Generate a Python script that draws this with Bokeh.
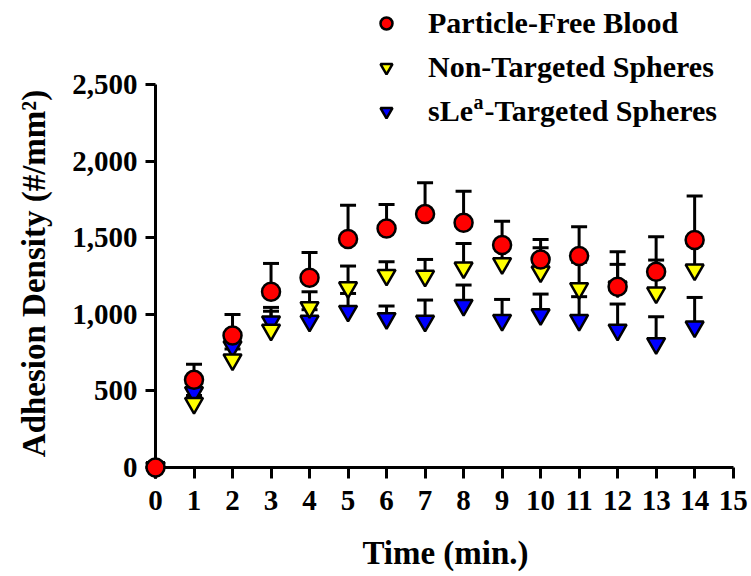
import math
from bokeh.plotting import figure
from bokeh.models import (ColumnDataSource, Whisker, TeeHead, Legend, LegendItem,
                          Label, FixedTicker, NumeralTickFormatter, Range1d)
from bokeh.embed import file_html
from bokeh.resources import INLINE

# ---- data ----
time_min = [0, 1, 2, 3, 4, 5, 6, 7, 8, 9, 10, 11, 12, 13, 14]
pfb_mean = [0, 572, 861, 1147, 1238, 1491, 1560, 1654, 1597, 1452, 1358, 1380, 1180, 1278, 1485]
pfb_err = [0, 102, 137, 185, 166, 221, 156, 204, 207, 156, 130, 191, 228, 228, 287]
nts_mean = [0, 420, 704, 898, 1045, 1175, 1256, 1250, 1304, 1332, 1278, 1169, 1180, 1141, 1291]
nts_err = [0, 50, 70, 147, 102, 140, 87, 108, 158, 88, 156, 171, 146, 213, 159]
sle_mean = [0, 490, 790, 952, 956, 1021, 973, 956, 1060, 962, 999, 962, 898, 810, 919]
sle_err = [0, 30, 50, 68, 74, 115, 81, 137, 131, 135, 133, 153, 169, 174, 191]

x_ticks = list(range(0, 16))
y_ticks = [0, 500, 1000, 1500, 2000, 2500]

labels = ["Particle-Free Blood", "Non-Targeted Spheres", "sLe"]
sup_text = "a"
tail_text = "-Targeted Spheres"
x_title = "Time (min.)"
y_title = "Adhesion Density (#/mm\u00b2)"

FONT = "Liberation Serif"

W, H = 751, 576
px_per_x = 38.51
px_per_y = 0.1532
X0_PX, Y0_PX = 155, 467          # canvas position of the data origin
x_start = -X0_PX / px_per_x
y_start = -(H - Y0_PX) / px_per_y

p = figure(width=W, height=H, output_backend="svg", toolbar_location=None, title=None,
           x_range=Range1d(x_start, x_start + W / px_per_x),
           y_range=Range1d(y_start, y_start + H / px_per_y),
           min_border_left=0, min_border_right=0, min_border_top=0,
           min_border_bottom=0)
p.outline_line_color = None
p.grid.visible = False
p.background_fill_color = "white"
p.border_fill_color = "white"

def sx(px):   # canvas x -> frame screen x
    return px

def sy(py):   # canvas y -> frame screen y (from bottom)
    return H - py

def src(mean, err):
    return ColumnDataSource(dict(x=time_min, y=mean,
                                 upper=[m + e for m, e in zip(mean, err)]))

series = [
    (sle_mean, sle_err, "inverted_triangle", "#0000FF"),
    (nts_mean, nts_err, "inverted_triangle", "#FFFF00"),
    (pfb_mean, pfb_err, "circle", "#FF0000"),
]
renderers = []
for mean, err, marker, color in series:
    s = src(mean, err)
    w = Whisker(base="x", upper="upper", lower="y", source=s,
                upper_head=TeeHead(size=16, line_width=3, line_color="black"),
                lower_head=None, line_width=3, line_color="black", level="underlay")
    p.add_layout(w)
    r = p.scatter("x", "y", source=s, marker=marker, size=18,
                  fill_color=color, line_color="black", line_width=2.5,
                  level="overlay")
    renderers.append(r)

for ax in (p.xaxis[0], p.yaxis[0]):
    ax.axis_line_width = 3
    ax.major_tick_line_width = 3
    ax.major_tick_in = 0
    ax.minor_tick_line_color = None
    ax.major_label_text_font = FONT
    ax.major_label_text_font_style = "bold"
    ax.major_label_text_font_size = "29px"
    ax.major_label_text_color = "black"
    ax.axis_line_color = "black"
    ax.major_tick_line_color = "black"
    ax.fixed_location = 0

p.xaxis[0].ticker = FixedTicker(ticks=x_ticks)
p.xaxis[0].bounds = (0, 15)
p.xaxis[0].major_tick_out = 11
p.xaxis[0].major_label_standoff = 12
p.yaxis[0].ticker = FixedTicker(ticks=y_ticks)
p.yaxis[0].formatter = NumeralTickFormatter(format="0,0")
p.yaxis[0].bounds = (0, 2500)
p.yaxis[0].major_tick_out = 10
p.yaxis[0].major_label_standoff = 8

def text_label(x, y, text, size, **kw):
    return Label(x=sx(x), y=sy(y), x_units="screen", y_units="screen", text=text,
                 text_font=FONT, text_font_style="bold", text_font_size=size,
                 text_color="black", text_baseline="middle", **kw)

# axis titles
p.add_layout(text_label(445, 552, x_title, "33px", text_align="center"))
p.add_layout(text_label(33, 273, y_title, "33px", text_align="center", angle=math.pi / 2))

# legend
items = [LegendItem(label=labels[0], renderers=[renderers[2]]),
         LegendItem(label=labels[1], renderers=[renderers[1]]),
         LegendItem(label=labels[2], renderers=[renderers[0]])]
legend = Legend(items=items, location=(sx(371), sy(129)),
                glyph_width=30, glyph_height=36, label_height=36, spacing=8,
                label_standoff=27, padding=0, margin=0, border_line_color=None,
                background_fill_alpha=0, label_text_font=FONT,
                label_text_font_style="bold", label_text_font_size="30px",
                label_text_color="black")
p.add_layout(legend)
p.add_layout(text_label(473, 101, sup_text, "20px", text_align="left"))
p.add_layout(text_label(484, 110, tail_text, "30px", text_align="left"))

open("out.html", "w").write(file_html(p, INLINE))
